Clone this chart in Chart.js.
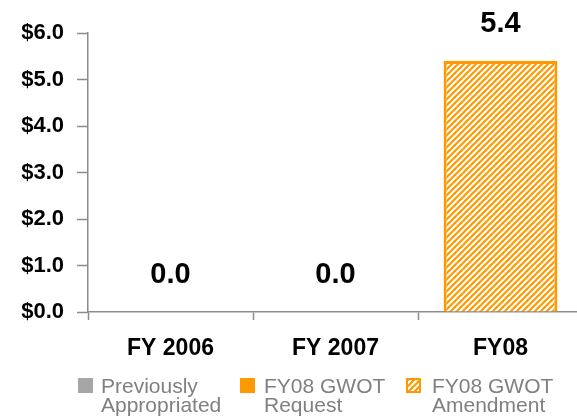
<!DOCTYPE html>
<html>
<head>
<meta charset="utf-8">
<script src="https://cdn.jsdelivr.net/npm/chart.js@4"></script>
<style>
    html, body { margin: 0; padding: 0; background: #fff; overflow: hidden; }
    #wrap { position: relative; width: 577px; height: 417px; overflow: hidden; }
    #chart { position: absolute; left: 0; top: 0; }
    .key { position: absolute; top: 376px; font: 21px Arial, 'Liberation Sans', sans-serif; line-height: 19px; color: #808080; }
    .swatch { position: absolute; top: 378px; width: 15px; height: 15px; box-sizing: border-box; }
</style>
</head>
<body>
<div id="wrap">
    <canvas id="chart" width="590" height="417"></canvas>
    <div class="swatch" style="left:78px;background:#a6a6a6"></div>
    <div class="key" style="left:101px">Previously<br>Appropriated</div>
    <div class="swatch" style="left:240px;background:#ff9900"></div>
    <div class="key" style="left:264px">FY08 GWOT<br>Request</div>
    <div class="swatch" id="hatchKey" style="left:406px;border:2px solid #ff9900"></div>
    <div class="key" style="left:432px">FY08 GWOT<br>Amendment</div>
</div>
<script>
const years = ['FY 2006', 'FY 2007', 'FY08'];
const previouslyAppropriated = [0, 0, 0];
const gwotRequest = [0, 0, 0];
const gwotAmendment = [0, 0, 5.4];

const orange = '#ff9900';
const axisGray = '#8c8c8c';
const font = "Arial, 'Liberation Sans', sans-serif";

// diagonal orange/white stripes for the amendment bar
function makeHatch() {
    const c = document.createElement('canvas');
    c.width = 6;
    c.height = 6;
    const g = c.getContext('2d');
    g.fillStyle = '#fff';
    g.fillRect(0, 0, 6, 6);
    g.strokeStyle = orange;
    g.lineWidth = 2.2;
    for (let k = -6; k <= 12; k += 6) {
        g.beginPath();
        g.moveTo(k - 6, 6 + 6);
        g.lineTo(k + 12, 6 - 12);
        g.stroke();
    }
    return c;
}
const hatchCanvas = makeHatch();
document.getElementById('hatchKey').style.background = 'url(' + hatchCanvas.toDataURL() + ')';

// totals written above each column
const totalLabels = {
    id: 'totalLabels',
    afterDatasetsDraw(chart) {
        const ctx = chart.ctx;
        const x = chart.scales.x;
        const y = chart.scales.y;
        ctx.save();
        ctx.font = 'bold 29px ' + font;
        ctx.fillStyle = '#000';
        ctx.textAlign = 'center';
        ctx.textBaseline = 'middle';
        years.forEach((_, i) => {
            const total = previouslyAppropriated[i] + gwotRequest[i] + gwotAmendment[i];
            ctx.fillText(total.toFixed(1), x.getPixelForValue(i), y.getPixelForValue(total) - 37);
        });
        ctx.restore();
    }
};

const ctx = document.getElementById('chart').getContext('2d');
const hatch = ctx.createPattern(hatchCanvas, 'repeat');

new Chart(ctx, {
    type: 'bar',
    data: {
        labels: years,
        datasets: [
            { label: 'Previously Appropriated', data: previouslyAppropriated, backgroundColor: '#a6a6a6' },
            { label: 'FY08 GWOT Request', data: gwotRequest, backgroundColor: orange },
            { label: 'FY08 GWOT Amendment', data: gwotAmendment, backgroundColor: hatch, borderColor: orange, borderWidth: 3 }
        ]
    },
    options: {
        responsive: false,
        animation: false,
        events: [],
        barPercentage: 0.69,
        categoryPercentage: 1,
        layout: { padding: { top: 33, right: 7, bottom: 0, left: 0 } },
        scales: {
            x: {
                stacked: true,
                afterFit(scale) { scale.height = 417 - 312; },
                border: { color: axisGray, width: 1.5 },
                grid: { offset: true, drawOnChartArea: false, tickLength: 8, tickColor: axisGray, tickWidth: 1.5 },
                ticks: { color: '#000', padding: 15, font: { family: font, size: 23, weight: 'bold' } }
            },
            y: {
                stacked: true,
                min: 0,
                max: 6,
                afterFit(scale) { scale.width = 88; },
                border: { color: axisGray, width: 1.5 },
                grid: { drawOnChartArea: false, tickLength: 11, tickColor: axisGray, tickWidth: 1.5 },
                ticks: {
                    stepSize: 1,
                    color: '#000',
                    padding: 13,
                    font: { family: font, size: 22, weight: 'bold' },
                    callback: v => '$' + v.toFixed(1)
                }
            }
        },
        plugins: {
            legend: { display: false },
            tooltip: { enabled: false }
        }
    },
    plugins: [totalLabels]
});
</script>
</body>
</html>
